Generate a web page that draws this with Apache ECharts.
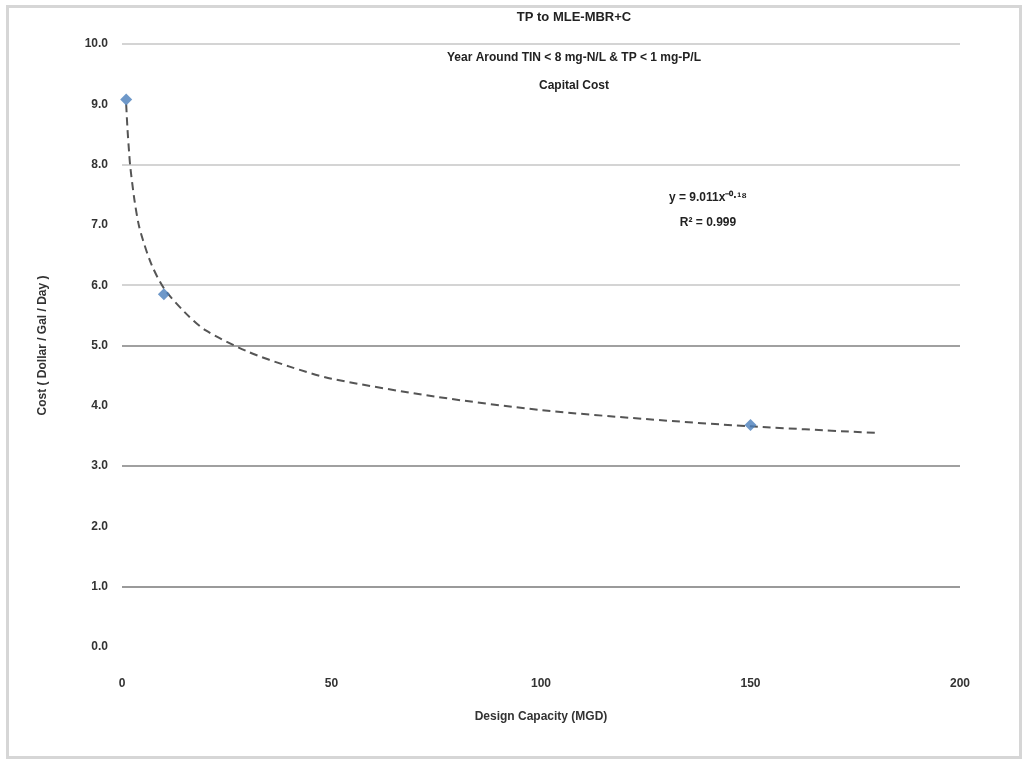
<!DOCTYPE html>
<html>
<head>
<meta charset="utf-8">
<script src="https://cdn.jsdelivr.net/npm/echarts@6/dist/echarts.min.js"></script>
<style>
html,body{margin:0;padding:0;background:#fff;}
#frame{position:absolute;left:6px;top:5px;width:1016px;height:754px;border:3px solid #d6d6d6;box-sizing:border-box;}
#chart{position:absolute;left:0;top:0;width:1029px;height:767px;}
</style>
</head>
<body>
<div id="frame"></div>
<div id="chart"></div>
<script>
// Observed points
var capacity = [1, 10, 150];
var cost = [9.08, 5.85, 3.68];
// Power trendline, values
var trendX = [1, 1.3, 1.7, 2, 3, 4, 5, 7, 10, 15, 20, 30, 40, 50, 75, 100, 125, 150, 180];
var trendY = [9.0, 8.6, 8.2, 7.95, 7.4, 7.0, 6.75, 6.35, 5.95, 5.55, 5.25, 4.9, 4.65, 4.45, 4.15, 3.93, 3.78, 3.66, 3.55];
var titleLines = ['TP to MLE-MBR+C', 'Year Around TIN < 8 mg-N/L & TP < 1 mg-P/L', 'Capital Cost'];
var equationLines = ['y = 9.011x\u207B\u2070\u00B7\u00B9\u2078', 'R\u00B2 = 0.999'];
var xTitle = 'Design Capacity (MGD)';
var yTitle = 'Cost ( Dollar / Gal / Day )';

var font = 'Liberation Sans, Arial, sans-serif';
function txt(t, x, y, size) {
  return {type: 'text', x: x, y: y,
    style: {text: t, font: 'bold ' + size + 'px ' + font, fill: '#222', textAlign: 'center', textVerticalAlign: 'middle'}};
}
var chart = echarts.init(document.getElementById('chart'));
chart.setOption({
  backgroundColor: 'transparent',
  animation: false,
  graphic: [
    txt(titleLines[0], 574, 17, 13),
    txt(titleLines[1], 574, 58, 12),
    txt(titleLines[2], 574, 86, 12),
    txt(equationLines[0], 708, 198, 12),
    txt(equationLines[1], 708, 223, 12)
  ],
  grid: {left: 122, right: 69, top: 44, bottom: 120},
  xAxis: {
    type: 'value', min: 0, max: 200, interval: 50,
    name: xTitle, nameLocation: 'middle', nameGap: 64,
    nameTextStyle: {fontFamily: font, fontSize: 12, color: '#333', fontWeight: 'bold'},
    axisLine: {show: false}, axisTick: {show: false},
    splitLine: {show: false},
    axisLabel: {fontFamily: font, fontSize: 12, color: '#333', margin: 31, fontWeight: 'bold'}
  },
  yAxis: {
    type: 'value', min: 0, max: 10, interval: 1,
    name: yTitle, nameLocation: 'middle', nameGap: 73,
    nameTextStyle: {fontFamily: font, fontSize: 12, color: '#333', fontWeight: 'bold'},
    axisLine: {show: false}, axisTick: {show: false},
    axisLabel: {fontFamily: font, fontSize: 12, color: '#333', margin: 14, fontWeight: 'bold',
      formatter: function (v) { return v.toFixed(1); }},
    splitLine: {show: true, lineStyle: {width: 2,
      color: ['transparent', '#9a9a9a', 'transparent', '#a0a0a0', 'transparent', '#a0a0a0', '#d4d4d4', 'transparent', '#d4d4d4', 'transparent', '#d4d4d4']}}
  },
  series: [{
    type: 'line',
    data: trendX.map(function (x, i) { return [x, trendY[i]]; }),
    smooth: 0.3, showSymbol: false, symbol: 'none',
    lineStyle: {color: '#555', width: 2, type: [8, 5]},
    z: 2
  }, {
    type: 'scatter',
    data: capacity.map(function (x, i) { return [x, cost[i]]; }),
    symbol: 'diamond', symbolSize: 12,
    itemStyle: {color: '#4a7ebb'},
    z: 3
  }]
});
</script>
</body>
</html>
